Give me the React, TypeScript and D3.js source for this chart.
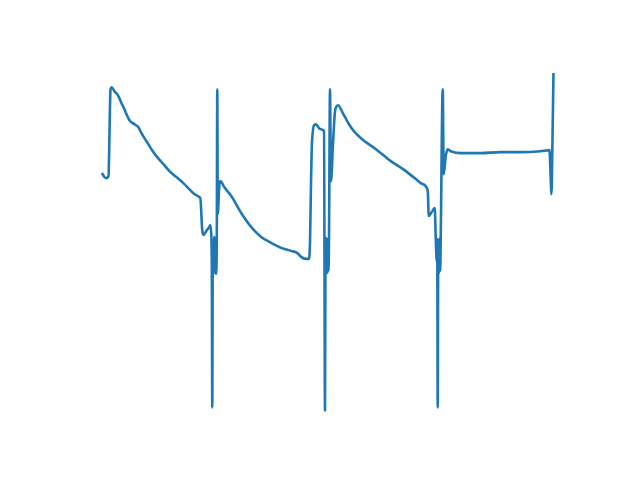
import React from "react";
import * as d3 from "d3";

const time: number[] = [
  0, 2, 4, 6, 7, 8, 9, 12, 16, 19,
  22, 24, 27, 32, 36, 39, 44, 49, 54, 61,
  67, 74, 81, 87, 92, 97, 98, 100, 101, 104,
  107, 108, 109, 109.5, 110, 110.5, 111, 112, 112.5, 113,
  113.5, 114, 114.5, 115, 115.5, 117, 118, 122, 129, 139,
  149, 159, 169, 179, 189, 195, 199, 204, 207, 208,
  209, 210, 212, 214, 217, 221, 222, 223, 223.5, 224,
  224.5, 225, 225.5, 226, 226.5, 227, 228, 229, 231, 233,
  234, 236, 241, 247, 252, 259, 274, 289, 304, 314,
  319, 324, 326, 327, 330, 333, 334, 335, 335.5, 336,
  336.5, 337, 337.5, 338, 338.5, 339, 341, 342, 344, 346,
  349, 359, 379, 399, 419, 439, 448, 449, 450, 451,
  452,
];

const signal: number[] = [
  237, 234, 233, 235, 280, 322, 324, 320, 315, 308,
  302, 297, 291, 287, 284, 278, 270, 262, 255, 247,
  240, 234, 228, 222, 217, 214, 213, 180, 176, 180,
  184, 186, 177, 150, 3, 170, 138, 174, 138, 172,
  140, 137, 170, 322, 197, 225, 230, 224, 215, 198,
  184, 174, 168, 163, 160, 158, 154, 152, 152, 170,
  230, 270, 286, 287, 283, 281, 280, 0, 170, 173,
  138, 172, 138, 170, 140, 173, 322, 230, 267, 300,
  304, 306, 298, 287, 280, 273, 262, 250, 240, 232,
  228, 225, 220, 195, 199, 203, 173, 150, 172, 3,
  165, 137, 172, 170, 140, 173, 322, 237, 255, 262,
  260, 258, 258, 259, 259, 260, 261, 240, 217, 270,
  337,
];

function padded(ext: [number, number]): [number, number] {
  const m = (ext[1] - ext[0]) * 0.05;
  return [ext[0] - m, ext[1] + m];
}

export default function App() {
  const W = 640, H = 480;
  const left = 80, right = 576, top = 57.6, bottom = 427.2;
  const data = time.map((t, i) => ({ t, v: signal[i] }));
  const x = d3.scaleLinear().domain(padded(d3.extent(time) as [number, number])).range([left, right]);
  const y = d3.scaleLinear().domain(padded(d3.extent(signal) as [number, number])).range([bottom, top]);
  const line = d3.line<{ t: number; v: number }>().x(d => x(d.t)).y(d => y(d.v)).curve(d3.curveMonotoneX);
  return (
    <svg width={W} height={H} style={{ position: "absolute", left: 0, top: 0, background: "#fff" }}>
      <rect width={W} height={H} fill="#fff" />
      <path d={line(data) || ""} fill="none" stroke="#1f77b4" strokeWidth={2.6} strokeLinejoin="round" strokeLinecap="square" />
    </svg>
  );
}
